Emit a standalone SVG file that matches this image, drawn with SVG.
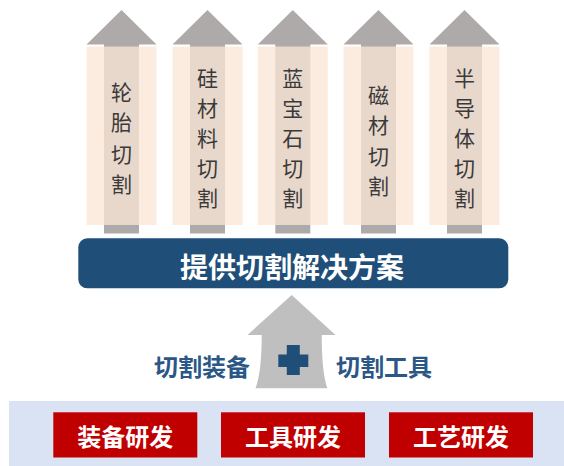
<svg xmlns="http://www.w3.org/2000/svg" width="564" height="466" viewBox="0 0 564 466">
<defs>
<style>
.arr{fill:#aeaaaa}
.peach{fill:#fbe5d6;fill-opacity:0.75}
.pt{font-family:"Noto Sans CJK SC","Noto Sans",sans-serif;font-size:21px;fill:#3a3a3a;text-anchor:middle;dominant-baseline:central}
.wt{font-family:"Noto Sans CJK SC","Noto Sans",sans-serif;font-weight:bold;fill:#ffffff;text-anchor:middle;dominant-baseline:central}
.bt{font-family:"Noto Sans CJK SC","Noto Sans",sans-serif;font-weight:bold;font-size:24px;fill:#2b5786;text-anchor:middle;dominant-baseline:central}
.red{fill:#c00000}
</style>
<g id="pillar">
<polygon class="arr" points="-35,34.5 0,0 35,34.5"/>
<rect class="arr" x="-17.5" y="34" width="35" height="189.5"/>
<rect class="peach" x="-35" y="36.5" width="70" height="178.5"/>
</g>
</defs>
<rect width="564" height="466" fill="#ffffff"/>

<g id="p1">
<use href="#pillar" x="121.5" y="10"/>
<text class="pt" x="121.5"><tspan x="121.5" y="91">轮</tspan><tspan x="121.5" y="121">胎</tspan><tspan x="121.5" y="153">切</tspan><tspan x="121.5" y="183">割</tspan></text>
</g>
<g id="p2">
<use href="#pillar" x="207.5" y="10"/>
<text class="pt"><tspan x="207.5" y="77">硅</tspan><tspan x="207.5" y="107">材</tspan><tspan x="207.5" y="137">料</tspan><tspan x="207.5" y="167">切</tspan><tspan x="207.5" y="197">割</tspan></text>
</g>
<g id="p3">
<use href="#pillar" x="292.8" y="10"/>
<text class="pt"><tspan x="292.8" y="77">蓝</tspan><tspan x="292.8" y="107">宝</tspan><tspan x="292.8" y="137">石</tspan><tspan x="292.8" y="167">切</tspan><tspan x="292.8" y="197">割</tspan></text>
</g>
<g id="p4">
<use href="#pillar" x="378.5" y="10"/>
<text class="pt"><tspan x="378.5" y="94">磁</tspan><tspan x="378.5" y="124">材</tspan><tspan x="378.5" y="155">切</tspan><tspan x="378.5" y="185">割</tspan></text>
</g>
<g id="p5">
<use href="#pillar" x="464.5" y="10"/>
<text class="pt"><tspan x="464.5" y="77">半</tspan><tspan x="464.5" y="107">导</tspan><tspan x="464.5" y="137">体</tspan><tspan x="464.5" y="167">切</tspan><tspan x="464.5" y="197">割</tspan></text>
</g>

<g id="banner">
<rect x="78.3" y="238.3" width="430" height="50" rx="9" fill="#1f4e79"/>
<text class="wt" x="292" y="266" font-size="28">提供切割解决方案</text>
</g>

<g id="connectors">
<path d="M291.7,295 L335.5,335 L321.7,335 Q321.7,372 327.3,388.3 L255.5,388.3 Q261.7,372 261.7,335 L247.5,335 Z" fill="#bfbfbf"/>
</g>

<g id="plus">
<rect x="278.3" y="354.5" width="30" height="12.5" fill="#1f4e79"/>
<rect x="286.8" y="345" width="13" height="30" fill="#1f4e79"/>
</g>
<g id="equip"><text class="bt" x="202" y="365">切割装备</text></g>
<g id="tools"><text class="bt" x="384" y="365">切割工具</text></g>

<g id="band"><rect x="9" y="401" width="555" height="65" fill="#dae3f3"/></g>
<g id="r1"><rect class="red" x="53.3" y="412.3" width="144" height="45.2"/><text class="wt" x="125.3" y="435.5" font-size="24">装备研发</text></g>
<g id="r2"><rect class="red" x="221" y="412.3" width="144" height="45.2"/><text class="wt" x="293" y="435.5" font-size="24">工具研发</text></g>
<g id="r3"><rect class="red" x="389" y="412.3" width="144" height="45.2"/><text class="wt" x="461" y="435.5" font-size="24">工艺研发</text></g>
</svg>
